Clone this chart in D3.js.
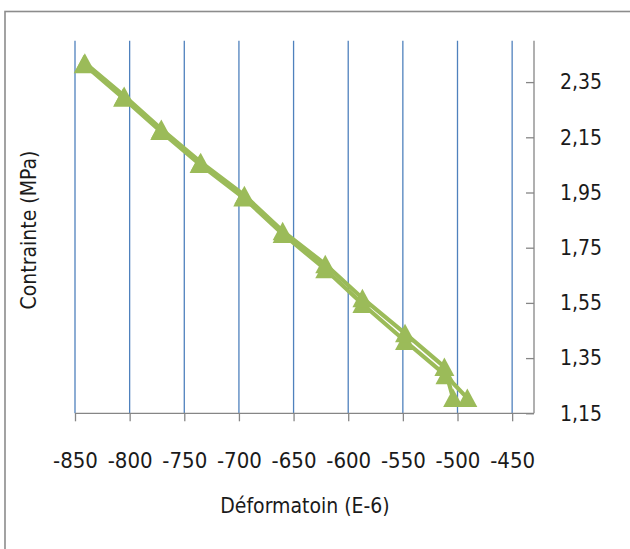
<!DOCTYPE html>
<html>
<head>
<meta charset="utf-8">
<script src="https://cdn.jsdelivr.net/npm/d3@7"></script>
<style>
  body { margin: 0; background: #fff; }
  svg { display: block; }
  text { font-family: "DejaVu Sans Condensed", "Liberation Sans Narrow", sans-serif; fill: #1a1a1a; }
</style>
</head>
<body>
<svg id="chart" width="630" height="549"></svg>
<script>
// Data
const loadX   = [-841, -805, -771, -735, -695, -660, -621, -587, -548, -512, -504];
const loadY   = [2.42, 2.30, 2.18, 2.06, 1.94, 1.81, 1.69, 1.567, 1.44, 1.318, 1.205];
const unloadX = [-491, -511, -548, -587, -621, -660, -696, -736, -772, -806, -842];
const unloadY = [1.205, 1.288, 1.412, 1.546, 1.672, 1.80, 1.932, 2.053, 2.173, 2.293, 2.415];
const xTicks = [-850, -800, -750, -700, -650, -600, -550, -500, -450];
const yTicks = [1.15, 1.35, 1.55, 1.75, 1.95, 2.15, 2.35];
const xTitle = "Déformatoin (E-6)";
const yTitle = "Contrainte (MPa)";

const svg = d3.select("#chart");
const x = d3.scaleLinear().domain([-850, -430]).range([75, 534]);
const y = d3.scaleLinear().domain([1.15, 2.5]).range([413.3, 40.7]);
const FONT = '"DejaVu Sans Condensed", sans-serif';

// outer chart border
svg.append("rect").attr("x", 5).attr("y", 11.5).attr("width", 700).attr("height", 600)
  .attr("fill", "none").attr("stroke", "#8c8c8c").attr("stroke-width", 1.6);

// vertical gridlines
svg.append("g").selectAll("line").data(xTicks).join("line")
  .attr("x1", d => x(d)).attr("x2", d => x(d))
  .attr("y1", y(2.5)).attr("y2", y(1.15))
  .attr("stroke", "#4f81bd").attr("stroke-width", 1.3);

// x axis
const xAxis = d3.axisBottom(x).tickValues(xTicks).tickSize(8).tickFormat(d => d);
const gx = svg.append("g").attr("transform", `translate(0,${y(1.15)})`).call(xAxis);
gx.select(".domain").attr("stroke", "#868686").attr("stroke-width", 1.3).attr("d", `M${x(-850)},0H${x(-430)}`);
gx.selectAll(".tick line").attr("stroke", "#868686").attr("stroke-width", 1.3);
gx.selectAll(".tick text").attr("font-size", 22).attr("dy", 0).attr("y", 55)
  .style("font-family", FONT).attr("fill", "#1a1a1a");

// y axis on the right, ticks pointing inward
const yAxis = d3.axisLeft(y).tickValues(yTicks).tickSize(8).tickFormat(d => d3.format(".2f")(d).replace(".", ","));
const gy = svg.append("g").attr("transform", `translate(${x(-430)},0)`).call(yAxis);
gy.select(".domain").attr("stroke", "#868686").attr("stroke-width", 1.3).attr("d", `M0,${y(2.5)}V${y(1.15)}`);
gy.selectAll(".tick line").attr("stroke", "#868686").attr("stroke-width", 1.3);
gy.selectAll(".tick text").attr("font-size", 21).attr("x", 26).attr("text-anchor", "start")
  .style("font-family", FONT).attr("fill", "#1a1a1a");

// lines
const line = d3.line().x(d => x(d[0])).y(d => y(d[1]));
const loadPts = loadX.map((v, i) => [v, loadY[i]]);
const unloadPts = unloadX.map((v, i) => [v, unloadY[i]]);
[unloadPts, loadPts].forEach(pts => {
  svg.append("path").datum(pts).attr("d", line)
    .attr("fill", "none").attr("stroke", "#9bbb59").attr("stroke-width", 4.2).attr("stroke-linejoin", "round");
});
const tri = "M0,-9.5L10,9L-10,9Z";
[unloadPts, loadPts].forEach(pts => {
  svg.append("g").selectAll("path").data(pts).join("path")
    .attr("transform", d => `translate(${x(d[0])},${y(d[1])})`)
    .attr("d", tri).attr("fill", "#9bbb59");
});

// titles
svg.append("text").attr("x", 305).attr("y", 513).attr("text-anchor", "middle")
  .attr("font-size", 21).text(xTitle);
svg.append("text").attr("transform", `translate(36,230) rotate(-90)`).attr("text-anchor", "middle")
  .attr("font-size", 21).text(yTitle);
</script>
</body>
</html>
